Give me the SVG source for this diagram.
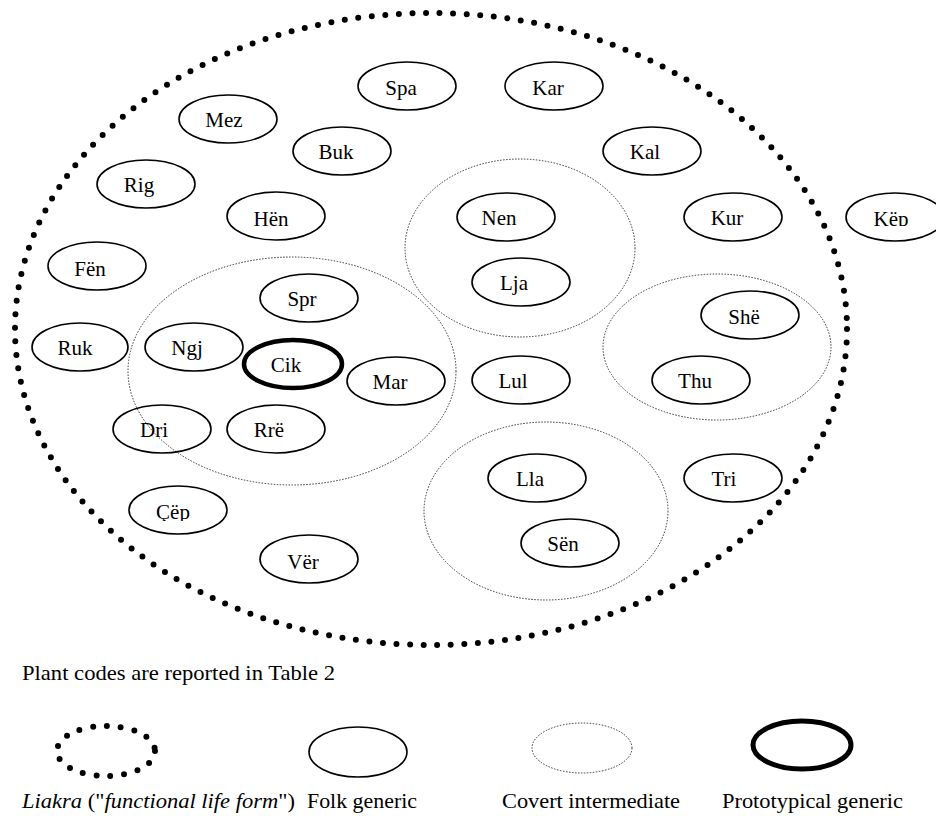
<svg xmlns="http://www.w3.org/2000/svg" width="936" height="816" viewBox="0 0 936 816">
<style>
  .bg { fill: #ffffff; }
  .folk { fill: none; stroke: #000; stroke-width: 1.6; }
  .proto { fill: none; stroke: #000; stroke-width: 4.5; }
  .covert { fill: none; stroke: #333; stroke-width: 1; stroke-dasharray: 1.5 1.5; }
  .liakra { fill: none; stroke: #000; stroke-width: 6; stroke-linecap: round; stroke-dasharray: 0 13.6; }
  .lbl { font-family: "Liberation Serif", "Times New Roman", serif; font-size: 21px; fill: #000; text-anchor: middle; }
  .leg { font-family: "Liberation Serif", "Times New Roman", serif; font-size: 22px; fill: #000; }
</style>
<defs>
  <clipPath id="clipKep"><rect x="840" y="190" width="96" height="36"/></clipPath>
  <clipPath id="clipCep"><rect x="120" y="480" width="120" height="41"/></clipPath>
</defs>
<rect class="bg" x="0" y="0" width="936" height="816"/>

<g id="liakra">
  <ellipse class="liakra" cx="431" cy="329" rx="416" ry="316"/>
</g>

<g id="covert-groups">
  <ellipse id="covert-cik" class="covert" cx="292" cy="371" rx="164" ry="114"/>
  <ellipse id="covert-nen" class="covert" cx="520" cy="248" rx="115" ry="89"/>
  <ellipse id="covert-she" class="covert" cx="717" cy="347" rx="114" ry="73"/>
  <ellipse id="covert-lla" class="covert" cx="546" cy="511" rx="122" ry="89"/>
</g>

<g id="connectors"></g>

<g id="Spa"><ellipse class="folk" cx="407" cy="86" rx="49" ry="24"/><text class="lbl" x="401" y="95">Spa</text></g>
<g id="Kar"><ellipse class="folk" cx="554" cy="86" rx="49" ry="24"/><text class="lbl" x="548" y="95">Kar</text></g>
<g id="Mez"><ellipse class="folk" cx="228" cy="119" rx="49" ry="24"/><text class="lbl" x="224" y="127">Mez</text></g>
<g id="Buk"><ellipse class="folk" cx="342" cy="151" rx="49" ry="24"/><text class="lbl" x="336" y="159">Buk</text></g>
<g id="Kal"><ellipse class="folk" cx="652" cy="151" rx="49" ry="24"/><text class="lbl" x="645" y="159">Kal</text></g>
<g id="Rig"><ellipse class="folk" cx="146" cy="184" rx="49" ry="24"/><text class="lbl" x="139" y="192">Rig</text></g>
<g id="Hen"><ellipse class="folk" cx="276" cy="216" rx="49" ry="24"/><text class="lbl" x="271" y="226">Hën</text></g>
<g id="Nen"><ellipse class="folk" cx="506" cy="217" rx="49" ry="24"/><text class="lbl" x="499" y="225">Nen</text></g>
<g id="Kur"><ellipse class="folk" cx="733" cy="217" rx="49" ry="24"/><text class="lbl" x="727" y="225">Kur</text></g>
<g id="Kep"><ellipse class="folk" cx="895" cy="217" rx="49" ry="24"/><text class="lbl" x="891" y="226" clip-path="url(#clipKep)">Këp</text></g>
<g id="Fen"><ellipse class="folk" cx="97" cy="266" rx="49" ry="24"/><text class="lbl" x="90" y="276">Fën</text></g>
<g id="Lja"><ellipse class="folk" cx="521" cy="282" rx="49" ry="24"/><text class="lbl" x="514" y="290">Lja</text></g>
<g id="Spr"><ellipse class="folk" cx="309" cy="298" rx="49" ry="24"/><text class="lbl" x="302" y="306">Spr</text></g>
<g id="She"><ellipse class="folk" cx="750" cy="315" rx="49" ry="24"/><text class="lbl" x="744" y="324">Shë</text></g>
<g id="Ruk"><ellipse class="folk" cx="80" cy="347" rx="48" ry="24"/><text class="lbl" x="75" y="355">Ruk</text></g>
<g id="Ngj"><ellipse class="folk" cx="194" cy="347" rx="49" ry="24"/><text class="lbl" x="187" y="355">Ngj</text></g>
<g id="Cik"><ellipse class="proto" cx="293" cy="364" rx="49" ry="24"/><text class="lbl" x="286" y="372">Cik</text></g>
<g id="Mar"><ellipse class="folk" cx="396" cy="381" rx="49" ry="24"/><text class="lbl" x="390" y="389">Mar</text></g>
<g id="Lul"><ellipse class="folk" cx="521" cy="380" rx="49" ry="24"/><text class="lbl" x="513" y="388">Lul</text></g>
<g id="Thu"><ellipse class="folk" cx="701" cy="380" rx="49" ry="24"/><text class="lbl" x="695" y="388">Thu</text></g>
<g id="Dri"><ellipse class="folk" cx="162" cy="429" rx="49" ry="24"/><text class="lbl" x="154" y="437">Dri</text></g>
<g id="Rre"><ellipse class="folk" cx="276" cy="429" rx="49" ry="24"/><text class="lbl" x="269" y="437">Rrë</text></g>
<g id="Lla"><ellipse class="folk" cx="537" cy="478" rx="49" ry="24"/><text class="lbl" x="530" y="486">Lla</text></g>
<g id="Tri"><ellipse class="folk" cx="733" cy="478" rx="49" ry="24"/><text class="lbl" x="724" y="486">Tri</text></g>
<g id="Cep"><ellipse class="folk" cx="178" cy="510" rx="49" ry="24"/><text class="lbl" x="173" y="519" clip-path="url(#clipCep)">Çëp</text></g>
<g id="Sen"><ellipse class="folk" cx="570" cy="543" rx="49" ry="24"/><text class="lbl" x="563" y="551">Sën</text></g>
<g id="Ver"><ellipse class="folk" cx="309" cy="559" rx="49" ry="24"/><text class="lbl" x="303" y="569">Vër</text></g>

<g id="note">
  <text class="leg" x="22" y="680" textLength="313" lengthAdjust="spacingAndGlyphs">Plant codes are reported in Table 2</text>
</g>

<g id="legend">
  <g id="legend-liakra">
    <ellipse class="liakra" cx="106" cy="751" rx="49" ry="25" style="stroke-dasharray:0 13.8"/>
    <text class="leg" x="22" y="808" textLength="273" lengthAdjust="spacingAndGlyphs"><tspan font-style="italic">Liakra</tspan> ("<tspan font-style="italic">functional life form</tspan>")</text>
  </g>
  <g id="legend-folk">
    <ellipse class="folk" cx="358" cy="752" rx="49" ry="25"/>
    <text class="leg" x="307" y="808" textLength="110" lengthAdjust="spacingAndGlyphs">Folk generic</text>
  </g>
  <g id="legend-covert">
    <ellipse class="covert" cx="582" cy="748" rx="50" ry="25"/>
    <text class="leg" x="502" y="808" textLength="178" lengthAdjust="spacingAndGlyphs">Covert intermediate</text>
  </g>
  <g id="legend-proto">
    <ellipse class="proto" cx="802" cy="745" rx="49" ry="24" style="stroke-width:5"/>
    <text class="leg" x="722" y="808" textLength="181" lengthAdjust="spacingAndGlyphs">Prototypical generic</text>
  </g>
</g>
</svg>
